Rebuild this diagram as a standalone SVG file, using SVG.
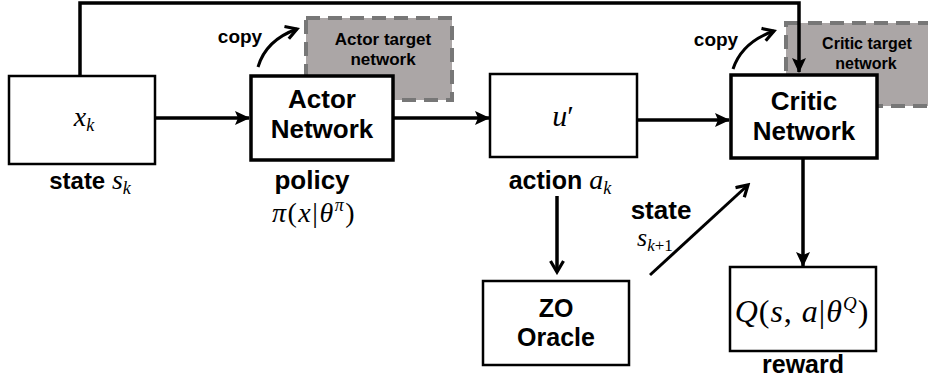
<svg xmlns="http://www.w3.org/2000/svg" width="928" height="383" viewBox="0 0 928 383">
<defs>
<style>
.box{fill:#fff;stroke:#000;stroke-width:2.5}
.thick{fill:#fff;stroke:#000;stroke-width:3.5}
.tgt{fill:#aba6a6;stroke:#777;stroke-width:4;stroke-dasharray:14 8}
.b{font-family:"Liberation Sans",Arial,sans-serif;font-weight:bold;fill:#000;text-anchor:middle}
.m{font-family:"Liberation Serif","Times New Roman",serif;font-style:italic;fill:#000;text-anchor:middle}
.mi{font-family:"Liberation Serif","Times New Roman",serif;font-style:italic;font-weight:normal}
.ln{fill:none;stroke:#000;stroke-width:3.5}
.ln2{fill:none;stroke:#000;stroke-width:3}
</style>
<marker id="ahb" markerWidth="16" markerHeight="16" refX="14" refY="8" orient="auto" markerUnits="userSpaceOnUse" viewBox="0 0 16 16"><path d="M0,1 L15,8 L0,15 L3,8 Z" fill="#000"/></marker>
<marker id="open" markerWidth="16" markerHeight="16" refX="13" refY="8" orient="auto" markerUnits="userSpaceOnUse" viewBox="0 0 16 16"><path d="M2,1.5 L13,8 L2,14.5" fill="none" stroke="#000" stroke-width="3.2"/></marker>
</defs>

<g id="actor-target">
<rect class="tgt" x="306" y="18" width="146" height="82"/>
<text class="b" x="383" y="45" font-size="17">Actor target</text>
<text class="b" x="383" y="65" font-size="17">network</text>
</g>
<g id="critic-target">
<rect class="tgt" x="786" y="23" width="150" height="83"/>
<text class="b" x="867" y="49" font-size="16">Critic target</text>
<text class="b" x="866" y="69" font-size="16">network</text>
</g>

<g id="connectors">
<polyline class="ln" points="80,76 80,3 799,3 799,72" marker-end="url(#ahb)"/>
<line class="ln" x1="155" y1="118" x2="249" y2="118" marker-end="url(#ahb)"/>
<line class="ln" x1="393" y1="118" x2="489" y2="118" marker-end="url(#ahb)"/>
<line class="ln" x1="637" y1="120" x2="729" y2="120" marker-end="url(#ahb)"/>
<line class="ln" x1="557" y1="196" x2="557" y2="272" marker-end="url(#open)"/>
<line class="ln2" x1="650" y1="275" x2="748" y2="185" marker-end="url(#open)"/>
<line class="ln" x1="803" y1="158" x2="803" y2="266" marker-end="url(#ahb)"/>
<path class="ln2" d="M258,67 Q266,40 297,29" marker-end="url(#open)"/>
<path class="ln2" d="M733,69 Q742,42 774,31" marker-end="url(#open)"/>
</g>

<g id="state">
<rect class="box" x="9" y="76" width="146" height="88"/>
<text class="m" x="84" y="126" font-size="28">x<tspan font-size="18" dy="5">k</tspan></text>
<text x="90" y="189" class="b" font-size="24">state <tspan class="mi" font-size="28">s</tspan><tspan class="mi" font-size="18" dy="5">k</tspan></text>
</g>

<g id="actor">
<rect class="thick" x="251" y="76" width="142" height="84"/>
<text class="b" x="322" y="108" font-size="26">Actor</text>
<text class="b" x="322" y="138" font-size="26">Network</text>
<text class="b" x="312" y="189" font-size="26">policy</text>
<text class="m" x="314" y="222" font-size="28" letter-spacing="1.5">π<tspan font-style="normal">(</tspan>x<tspan font-style="normal">|</tspan>θ<tspan font-size="18" dy="-11">π</tspan><tspan font-style="normal" dy="11">)</tspan></text>
<text class="b" x="240" y="43" font-size="19">copy</text>
</g>

<g id="action">
<rect class="box" x="490" y="74" width="147" height="83"/>
<text class="m" x="563" y="126" font-size="30">u<tspan font-style="normal">′</tspan></text>
<text class="b" x="560" y="189" font-size="25">action <tspan class="mi" font-size="28">a</tspan><tspan class="mi" font-size="18" dy="5">k</tspan></text>
</g>

<g id="critic">
<rect class="thick" x="731" y="75" width="146" height="83"/>
<text class="b" x="804" y="110" font-size="26">Critic</text>
<text class="b" x="804" y="140" font-size="26">Network</text>
<text class="b" x="716" y="46" font-size="19">copy</text>
</g>

<g id="oracle">
<rect class="box" x="483" y="281" width="146" height="84"/>
<text class="b" x="556" y="317" font-size="25">ZO</text>
<text class="b" x="556" y="346" font-size="25">Oracle</text>
<text class="b" x="661" y="219" font-size="26">state</text>
<text class="m" x="655" y="246" font-size="26">s<tspan font-size="17" dy="5">k</tspan><tspan font-size="17" font-style="normal">+1</tspan></text>
</g>

<g id="reward">
<rect class="box" x="730" y="267" width="146" height="84"/>
<text class="m" x="802" y="322" font-size="32" letter-spacing="1">Q<tspan font-style="normal">(</tspan>s<tspan font-style="normal">, </tspan>a<tspan font-style="normal">|</tspan>θ<tspan font-size="19" dy="-12">Q</tspan><tspan font-style="normal" dy="12">)</tspan></text>
<text class="b" x="803" y="373" font-size="25">reward</text>
</g>
</svg>
